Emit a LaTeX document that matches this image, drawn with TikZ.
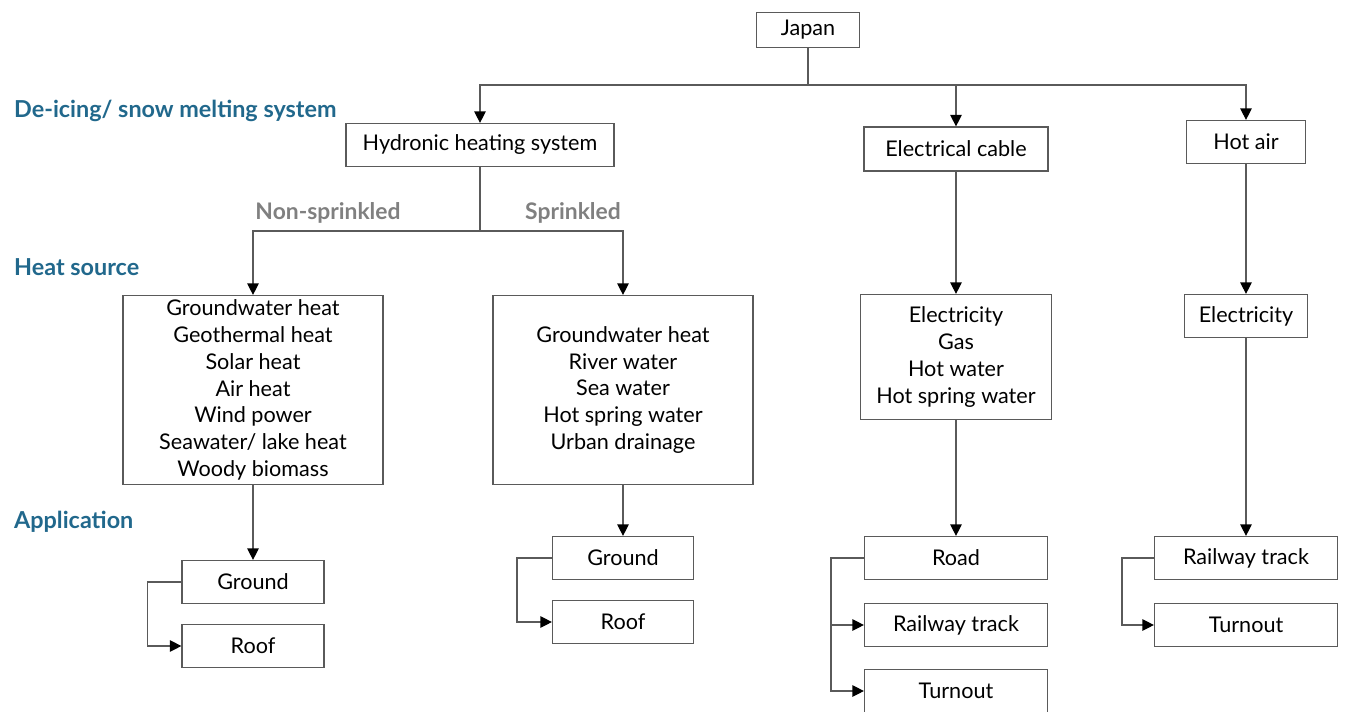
\documentclass[tikz,border=0pt]{standalone}
\usepackage{fontspec}
\setmainfont{Lato}
\usetikzlibrary{arrows.meta}
\definecolor{levelblue}{RGB}{33,104,140}
\definecolor{linegray}{RGB}{90,90,90}

\begin{document}
\begin{tikzpicture}[
    x=0.02cm, y=-0.02cm,
    box/.style={rectangle, draw=linegray, line width=0.7pt, align=center, inner sep=0pt, font=\fontsize{12.3}{15.2}\selectfont},
    arrow/.style={-{Triangle[length=6.5pt, width=6.5pt, color=black]}, draw=linegray, line width=0.7pt},
    link/.style={draw=linegray, line width=0.7pt},
    level/.style={anchor=west, font=\bfseries\fontsize{13.3}{15}\selectfont, text=levelblue},
    branch/.style={font=\bfseries\fontsize{13}{15}\selectfont, text=gray}
]
    \useasboundingbox (0,0) rectangle (1346,711);
    \clip (0,0) rectangle (1346,711);

    % Ebenen
    \node[level] (lvlsys) at (8,111) {De-icing/ snow melting system};
    \node[level] (lvlheat) at (8,267) {Heat source};
    \node[level] (lvlapp) at (8,522) {Application};

    % Systeme
    \node[box, minimum width=2.06cm, minimum height=0.7cm] (japan) at (808,30) {Japan};
    \node[box, minimum width=5.36cm, minimum height=0.86cm] (hydro) at (480,145) {Hydronic heating system};
    \node[box, minimum width=3.68cm, minimum height=0.88cm] (cable) at (956,149) {Electrical cable};
    \node[box, minimum width=2.38cm, minimum height=0.86cm] (hotair) at (1246,142) {Hot air};

    % Waermequellen
    \node[box, minimum width=5.2cm, minimum height=3.78cm] (srcnon) at (253,390) {Groundwater heat\\Geothermal heat\\Solar heat\\Air heat\\Wind power\\Seawater/ lake heat\\Woody biomass};
    \node[box, minimum width=5.2cm, minimum height=3.78cm] (srcspr) at (623,390) {Groundwater heat\\River water\\Sea water\\Hot spring water\\Urban drainage};
    \node[box, minimum width=3.82cm, minimum height=2.5cm] (srccable) at (956,357) {Electricity\\Gas\\Hot water\\Hot spring water};
    \node[box, minimum width=2.46cm, minimum height=0.86cm] (srcair) at (1246,316) {Electricity};

    % Anwendungen
    \node[box, minimum width=2.84cm, minimum height=0.86cm] (gndnon) at (253,582) {Ground};
    \node[box, minimum width=2.84cm, minimum height=0.86cm] (roofnon) at (253,646) {Roof};
    \node[box, minimum width=2.82cm, minimum height=0.86cm] (gndspr) at (623,558) {Ground};
    \node[box, minimum width=2.82cm, minimum height=0.86cm] (roofspr) at (623,622) {Roof};
    \node[box, minimum width=3.66cm, minimum height=0.86cm] (road) at (956,558) {Road};
    \node[box, minimum width=3.66cm, minimum height=0.86cm] (railcable) at (956,625) {Railway track};
    \node[box, minimum width=3.66cm, minimum height=0.86cm] (turncable) at (956,691) {Turnout};
    \node[box, minimum width=3.66cm, minimum height=0.86cm] (railair) at (1246,558) {Railway track};
    \node[box, minimum width=3.66cm, minimum height=0.86cm] (turnair) at (1246,625) {Turnout};

    % Verbindungen oben
    \coordinate (top) at (808,85);
    \draw[link] (japan) -- (top);
    \draw[arrow] (top) -| (hydro);
    \draw[arrow] (top) -| (cable);
    \draw[arrow] (top) -| (hotair);

    % Hydronic
    \coordinate (split) at (480,231);
    \draw[link] (hydro) -- (split);
    \draw[arrow] (split) -| (srcnon);
    \draw[arrow] (split) -| (srcspr);
    \node[branch] (nonspr) at (328,213) {Non-sprinkled};
    \node[branch] (spr) at (573,213) {Sprinkled};

    % senkrechte Pfeile
    \draw[arrow] (cable) -- (srccable);
    \draw[arrow] (hotair) -- (srcair);
    \draw[arrow] (srcnon) -- (gndnon);
    \draw[arrow] (srcspr) -- (gndspr);
    \draw[arrow] (srccable) -- (road);
    \draw[arrow] (srcair) -- (railair);

    % Abzweige
    \draw[arrow] (gndnon.west) -- ++(-34,0) |- (roofnon);
    \draw[arrow] (gndspr.west) -- ++(-35,0) |- (roofspr);
    \draw[arrow] (road.west) -- ++(-33,0) |- (railcable);
    \draw[arrow] (road.west) -- ++(-33,0) |- (turncable);
    \draw[arrow] (railair.west) -- ++(-32,0) |- (turnair);
\end{tikzpicture}
\end{document}
